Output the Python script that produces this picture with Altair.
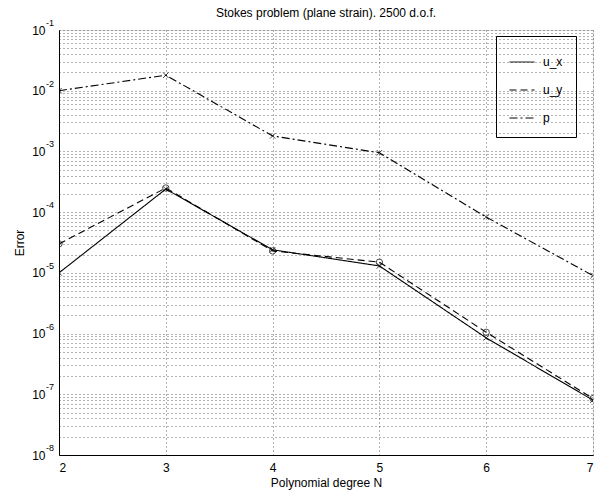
import altair as alt
import pandas as pd

N = [2, 3, 4, 5, 6, 7]
u_x = [1.0e-5, 2.4e-4, 2.4e-5, 1.3e-5, 8.5e-7, 8.0e-8]
u_y = [3.0e-5, 2.5e-4, 2.3e-5, 1.5e-5, 1.05e-6, 8.5e-8]
p = [1.0e-2, 1.8e-2, 1.8e-3, 9.5e-4, 8.3e-5, 9.0e-6]
series_names = ["u_x", "u_y", "p"]
x_ticks = [2, 3, 4, 5, 6, 7]
decade_exponents = [-1, -2, -3, -4, -5, -6, -7, -8]

rows = []
for name, vals in zip(series_names, [u_x, u_y, p]):
    for n, v in zip(N, vals):
        rows.append({"N": n, "Error": v, "series": name})
df = pd.DataFrame(rows)

dec_df = pd.DataFrame({"Error": [10.0 ** e for e in decade_exponents],
                       "exp": [str(e) for e in decade_exponents]})

y_grid = [m * 10.0 ** k for k in range(-8, -1) for m in range(1, 10)] + [1e-1]

FONT = "Liberation Sans"
xscale = alt.Scale(domain=[2, 7], nice=False, zero=False)
yscale = alt.Scale(type="log", domain=[1e-8, 1e-1], nice=False)

label_expr = (
    "abs(log(datum.value)/LN10 - round(log(datum.value)/LN10)) < 0.001 ? '10' : ''"
)

x_enc = alt.X(
    "N:Q", scale=xscale,
    axis=alt.Axis(values=x_ticks, title="Polynomial degree N", format="d",
                  grid=True, gridDash=[1, 3], gridColor="black", gridOpacity=0.6,
                  ticks=False, labelPadding=7, titlePadding=4,
                  domainColor="black", labelColor="black", titleColor="black",
                  labelFontSize=12, titleFontSize=12, titleFontWeight="normal",
                  labelFont=FONT, titleFont=FONT),
)
y_enc = alt.Y(
    "Error:Q", scale=yscale,
    axis=alt.Axis(values=y_grid, labelExpr=label_expr, title="Error",
                  grid=True, gridDash=[1, 3], gridColor="black", gridOpacity=0.6,
                  ticks=False, labelPadding=14, titlePadding=5,
                  domainColor="black", labelColor="black", titleColor="black",
                  labelFontSize=12, titleFontSize=12, titleFontWeight="normal",
                  labelFont=FONT, titleFont=FONT, labelOverlap=False),
)

lines = alt.Chart(df).mark_line(color="black", strokeWidth=1.1, clip=True).encode(
    x=x_enc,
    y=y_enc,
    strokeDash=alt.StrokeDash(
        "series:N",
        scale=alt.Scale(domain=series_names, range=[[1, 0], [7, 4], [8, 3, 2, 3]]),
        legend=alt.Legend(title=None, orient="none", legendX=437, legendY=6,
                          symbolType="stroke", symbolSize=625, symbolStrokeWidth=1,
                          symbolStrokeColor="black", strokeColor="black",
                          padding=13, rowPadding=9, labelFontSize=12, labelFont=FONT,
                          labelColor="black", labelOffset=8),
    ),
)

xpath = "M-1,-1L1,1M-1,1L1,-1"
crosses = alt.Chart(df).transform_filter(
    alt.FieldOneOfPredicate(field="series", oneOf=["u_x", "p"])
).mark_point(shape=xpath, filled=False, color="black", size=30, strokeWidth=1, clip=True).encode(
    x="N:Q", y="Error:Q"
)
circles = alt.Chart(df).transform_filter(
    alt.FieldEqualPredicate(field="series", equal="u_y")
).mark_point(shape="circle", filled=False, color="black", size=40, strokeWidth=1, clip=True).encode(
    x="N:Q", y="Error:Q"
)

exponents = alt.Chart(dec_df).mark_text(
    align="left", baseline="middle", dy=-7, fontSize=9, font=FONT, color="black", clip=False
).encode(
    x=alt.value(-13),
    y="Error:Q",
    text="exp:N",
)

chart = alt.layer(lines, crosses, circles, exponents).properties(
    width=534, height=425,
    title=alt.TitleParams("Stokes problem (plane strain). 2500 d.o.f.", fontSize=12,
                          font=FONT, fontWeight="normal", color="black", offset=-1),
    autosize=alt.AutoSizeParams(type="none"),
    padding={"left": 59, "top": 30, "right": 2, "bottom": 39},
).configure_view(stroke="black", strokeWidth=1).configure(background="white")

chart.save("out.html", embed_options={"renderer": "svg", "actions": False})
